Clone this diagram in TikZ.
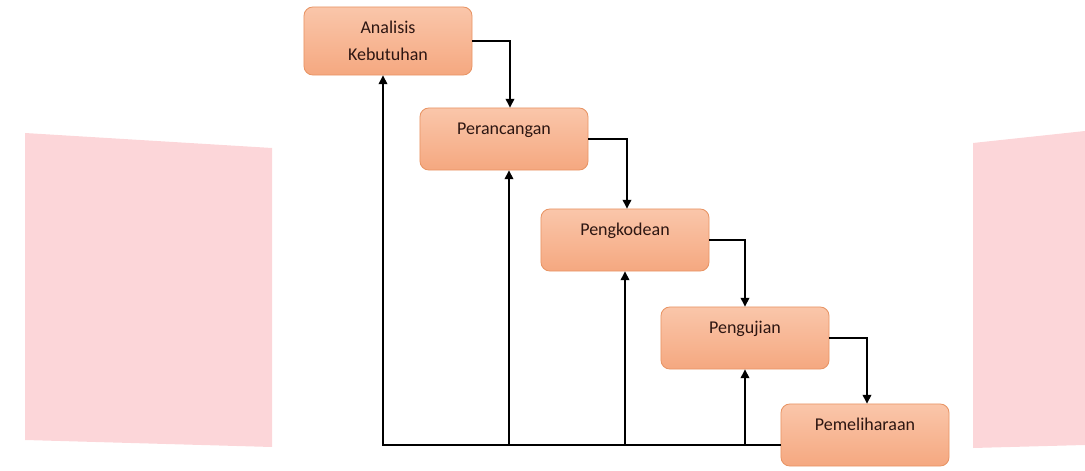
\documentclass[tikz,border=0pt]{standalone}
\usepackage{fontspec}
\setmainfont{Carlito}
\usetikzlibrary{arrows.meta}
\definecolor{pinkbg}{RGB}{252,214,217}
\definecolor{boxtop}{RGB}{250,198,170}
\definecolor{boxbot}{RGB}{245,168,128}
\definecolor{boxline}{RGB}{232,148,100}
\definecolor{txt}{RGB}{45,22,18}

\begin{document}
\begin{tikzpicture}[x=0.025cm,y=-0.025cm,
  phase/.style={draw=boxline,line width=0.6pt,rounded corners=0.22cm,
    top color=boxtop,bottom color=boxbot,minimum width=4.2cm,inner sep=0pt,
    text=txt,font=\fontsize{12.8}{19}\selectfont,align=center},
  onetext/.style={text height=0.675cm,text depth=0.875cm},
  flow/.style={line width=0.9pt,-{Triangle[width=0.22cm,length=0.22cm]}}]
\useasboundingbox (0,0) rectangle (1085,471);
% background panels
\fill[pinkbg] (25,133) -- (272,148) -- (272,447) -- (25,440) -- cycle;
\fill[pinkbg] (973,143) -- (1085,131) -- (1085,445) -- (973,448) -- cycle;
% phases
\node[phase,minimum height=1.7cm] (ana) at (388,41) {Analisis\\Kebutuhan};
\node[phase,onetext] (per) at (504,139) {Perancangan};
\node[phase,onetext] (kod) at (625,240) {Pengkodean};
\node[phase,onetext] (uji) at (745,338) {Pengujian};
\node[phase,onetext] (pel) at (865,435) {Pemeliharaan};
% down the steps
\foreach \a/\b/\s in {ana/per/6,per/kod/2,kod/uji/0,uji/pel/2}
\draw[flow] (\a.east) -| ([xshift=\s*0.025cm]\b.north);
% back to each phase
\coordinate (fb) at ([yshift=-0.25cm]pel.west);
\foreach \n/\s in {ana/-5,per/5,kod/0,uji/0}
\draw[flow] (fb) -| ([xshift=\s*0.025cm]\n.south);
\end{tikzpicture}
\end{document}
